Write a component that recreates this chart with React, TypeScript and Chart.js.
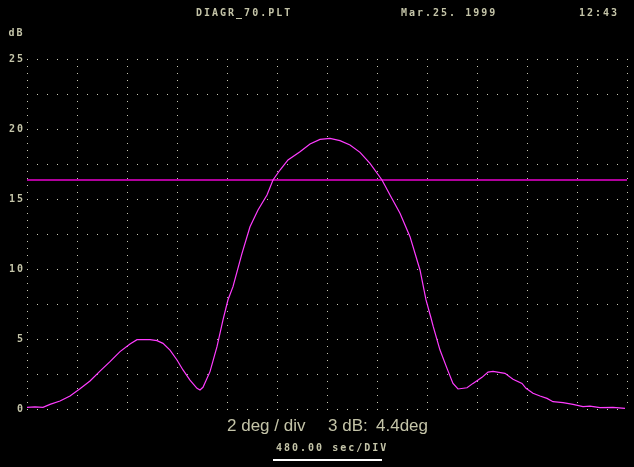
import React, { useEffect, useRef } from 'react';
import { Chart, registerables } from 'chart.js';

Chart.register(...registerables);

// Antenna pattern: angle (deg, 2 deg / div) vs level (dB)
const angleDeg = [
  -12.0, -11.68, -11.36, -11.08, -10.68, -10.28, -9.88, -9.48, -9.08, -8.68,
  -8.28, -7.88, -7.6, -7.28, -7.08, -6.8, -6.56, -6.28, -6.0, -5.76,
  -5.48, -5.2, -5.08, -4.96, -4.68, -4.4, -4.16, -3.96, -3.76, -3.4,
  -3.08, -2.76, -2.4, -2.16, -1.88, -1.56, -1.08, -0.68, -0.28, 0.12,
  0.52, 0.92, 1.32, 1.72, 2.2, 2.52, 2.92, 3.32, 3.72, 3.96,
  4.16, 4.25, 4.52, 4.8, 5.04, 5.24, 5.6, 5.84, 6.2, 6.44,
  6.64, 7.12, 7.44, 7.8, 7.96, 8.24, 8.52, 8.8, 9.04, 9.44,
  9.84, 10.24, 10.52, 10.92, 11.44, 11.92,
];
const levelDb = [
  0.12, 0.15, 0.12, 0.33, 0.57, 0.93, 1.45, 2.0, 2.71, 3.38,
  4.1, 4.64, 4.95, 4.95, 4.95, 4.88, 4.69, 4.21, 3.5, 2.79,
  2.07, 1.48, 1.36, 1.55, 2.67, 4.45, 6.36, 7.8, 8.74, 11.12,
  13.02, 14.21, 15.29, 16.36, 17.07, 17.79, 18.38, 18.93, 19.26, 19.33,
  19.17, 18.86, 18.33, 17.55, 16.36, 15.29, 13.98, 12.31, 9.93, 7.79,
  6.5, 5.88, 4.21, 2.9, 1.83, 1.43, 1.52, 1.83, 2.26, 2.64,
  2.69, 2.55, 2.12, 1.83, 1.48, 1.12, 0.93, 0.76, 0.52, 0.45,
  0.33, 0.17, 0.21, 0.1, 0.12, 0.05,
];
const halfPowerDb = 16.35;
const xRange = [-12, 12];
const yRange = [0, 25];
const yLabelStep = 5;
const yGridStep = 2.5;
const xGridStep = 2;

const headerFile = 'DIAGR_70.PLT';
const headerDate = 'Mar.25. 1999';
const headerTime = '12:43';
const yUnit = 'dB';
const footScale = '2 deg / div';
const footBwLabel = '3 dB:';
const footBwValue = '4.4deg';
const footTime = '480.00 sec/DIV';

const TEXT = '#c4c4a8';
const GRID = '#c8c8b4';

const textPlugin = {
  id: 'plotText',
  beforeDraw(chart: any) {
    const ctx = chart.ctx;
    ctx.save();
    ctx.fillStyle = '#000';
    ctx.fillRect(0, 0, chart.width, chart.height);
    ctx.restore();
    ctx.letterSpacing = '2px';
  },
  afterDraw(chart: any) {
    const ctx = chart.ctx;
    ctx.save();
    ctx.fillStyle = TEXT;
    ctx.textBaseline = 'alphabetic';
    ctx.textAlign = 'left';
    ctx.font = 'bold 10px "DejaVu Sans Mono"';
    ctx.letterSpacing = '2px';
    ctx.fillText(headerFile, 196, 16);
    ctx.fillText(headerDate, 401, 16);
    ctx.fillText(headerTime, 579, 16);
    ctx.fillText(yUnit, 8.5, 36);
    ctx.fillText(footTime, 276, 451);
    ctx.letterSpacing = '0px';
    ctx.font = '17px "Liberation Sans"';
    ctx.fillText(footScale, 227, 431);
    ctx.fillText(footBwLabel, 328, 431);
    ctx.fillText(footBwValue, 376, 431);
    ctx.fillStyle = '#ffffff';
    ctx.fillRect(273, 459, 109, 2);
    ctx.restore();
  },
};

export default function App() {
  const ref = useRef<HTMLCanvasElement | null>(null);
  useEffect(() => {
    if (!ref.current) return;
    const curve = angleDeg.map((x, i) => ({ x, y: levelDb[i] }));
    const level = [
      { x: xRange[0], y: halfPowerDb },
      { x: xRange[1], y: halfPowerDb },
    ];
    const chart = new Chart(ref.current, {
      type: 'line',
      data: {
        datasets: [
          {
            data: curve,
            borderColor: '#ff3cff',
            borderWidth: 1.2,
            pointRadius: 0,
            tension: 0,
          },
          {
            data: level,
            borderColor: '#b0009c',
            borderWidth: 2,
            pointRadius: 0,
          },
        ],
      },
      options: {
        animation: false,
        responsive: false,
        devicePixelRatio: 1,
        layout: { padding: { top: 59, right: 7, bottom: 58, left: 0 } },
        plugins: { legend: { display: false }, tooltip: { enabled: false } },
        scales: {
          x: {
            type: 'linear',
            min: xRange[0],
            max: xRange[1],
            border: { display: false, dash: [1, 6] },
            grid: { color: GRID, lineWidth: 1, drawTicks: false },
            ticks: { display: false, stepSize: xGridStep },
            afterFit: (s: any) => { s.height = 0; },
          },
          y: {
            type: 'linear',
            min: yRange[0],
            max: yRange[1],
            border: { display: false, dash: [1, 9] },
            grid: { color: GRID, lineWidth: 1, drawTicks: false },
            ticks: {
              stepSize: yGridStep,
              autoSkip: false,
              padding: 2,
              color: TEXT,
              font: { family: '"DejaVu Sans Mono"', size: 10, weight: 'bold' },
              callback: (v: any) => (Number(v) % yLabelStep === 0 ? String(v) : ''),
            },
            afterFit: (s: any) => { s.width = 27; },
          },
        },
      },
      plugins: [textPlugin],
    });
    return () => chart.destroy();
  }, []);
  return (
    <div style={{ position: 'fixed', left: 0, top: 0, width: 634, height: 467, background: '#000' }}>
      <canvas ref={ref} width={634} height={467} style={{ display: 'block', width: 634, height: 467 }} />
    </div>
  );
}
